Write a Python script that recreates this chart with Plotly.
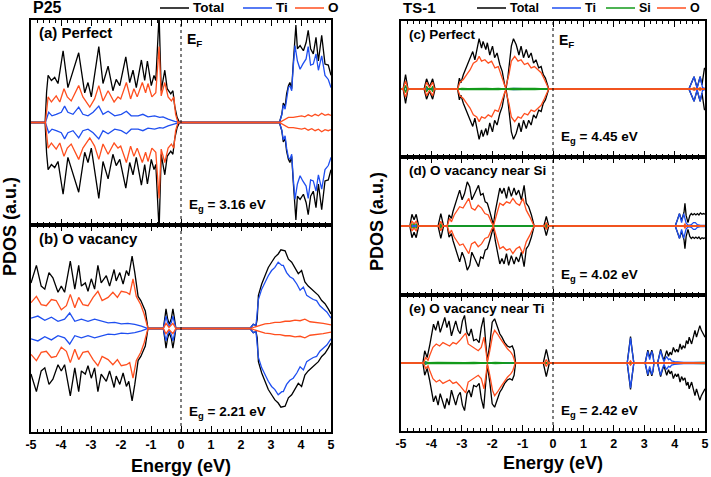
import plotly.graph_objects as go

W, H = 711, 477

# energy (eV), spin-up PDOS as a fraction of the half panel height
# spin-down is drawn as the mirror image
A_TOTAL = [(-5.0, 0), (-4.53, 0), (-4.48, 0.30), (-4.43, 0.46), (-4.32, 0.41), (-4.21, 0.44), (-4.1, 0.38),
           (-3.93, 0.70), (-3.77, 0.34), (-3.6, 0.49), (-3.41, 0.68), (-3.21, 0.29), (-3.1, 0.39), (-2.99, 0.25),
           (-2.9, 0.44), (-2.74, 0.74), (-2.6, 0.38), (-2.43, 0.55), (-2.27, 0.31), (-2.16, 0.42), (-2.04, 0.36),
           (-1.84, 0.64), (-1.71, 0.39), (-1.6, 0.51), (-1.49, 0.34), (-1.32, 0.61), (-1.21, 0.41), (-1.12, 0.60),
           (-0.99, 0.36), (-0.9, 0.46), (-0.84, 0.41), (-0.73, 1.05), (-0.66, 0.31), (-0.54, 0.51), (-0.46, 0.33),
           (-0.34, 0.28), (-0.27, 0.31), (-0.21, 0.16), (-0.13, 0.05), (-0.05, 0), (3.28, 0), (3.36, 0.08),
           (3.41, 0.19), (3.47, 0.15), (3.52, 0.28), (3.58, 0.36), (3.63, 0.39), (3.69, 0.33), (3.74, 0.57),
           (3.78, 0.77), (3.83, 0.95), (3.88, 0.72), (3.97, 0.75), (4.08, 0.70), (4.17, 0.78), (4.24, 0.90),
           (4.32, 0.72), (4.41, 0.67), (4.5, 0.83), (4.58, 0.60), (4.69, 0.85), (4.8, 0.57), (4.91, 0.56),
           (5.0, 0.46)]
A_TI = [(-5.0, 0), (-4.52, 0), (-4.41, 0.10), (-4.3, 0.065), (-4.16, 0.08), (-3.99, 0.10), (-3.88, 0.16),
        (-3.77, 0.10), (-3.6, 0.08), (-3.41, 0.15), (-3.27, 0.08), (-3.1, 0.065), (-2.93, 0.10), (-2.74, 0.16),
        (-2.6, 0.08), (-2.43, 0.11), (-2.21, 0.065), (-1.99, 0.08), (-1.82, 0.11), (-1.66, 0.065), (-1.43, 0.065),
        (-1.27, 0.08), (-1.1, 0.055), (-0.88, 0.065), (-0.71, 0.05), (-0.6, 0.055), (-0.43, 0.033), (-0.21, 0.01),
        (-0.04, 0), (3.28, 0), (3.36, 0.075), (3.41, 0.17), (3.47, 0.13), (3.52, 0.25), (3.58, 0.34), (3.63, 0.36),
        (3.69, 0.31), (3.74, 0.54), (3.8, 0.75), (3.88, 0.60), (3.97, 0.52), (4.06, 0.57), (4.17, 0.62),
        (4.24, 0.74), (4.32, 0.56), (4.41, 0.57), (4.5, 0.67), (4.58, 0.51), (4.69, 0.65), (4.8, 0.46),
        (4.91, 0.42), (5.0, 0.34)]
A_O = [(-5.0, 0), (-4.52, 0), (-4.43, 0.25), (-4.32, 0.20), (-4.16, 0.26), (-4.04, 0.20), (-3.9, 0.33),
       (-3.79, 0.25), (-3.66, 0.21), (-3.41, 0.36), (-3.27, 0.25), (-3.04, 0.15), (-2.88, 0.23), (-2.74, 0.36),
       (-2.6, 0.21), (-2.43, 0.31), (-2.23, 0.20), (-2.1, 0.25), (-2.01, 0.23), (-1.82, 0.39), (-1.68, 0.23),
       (-1.57, 0.33), (-1.46, 0.25), (-1.29, 0.39), (-1.18, 0.29), (-1.1, 0.38), (-0.97, 0.25), (-0.84, 0.29),
       (-0.73, 0.74), (-0.66, 0.26), (-0.54, 0.39), (-0.43, 0.25), (-0.32, 0.21), (-0.24, 0.25), (-0.18, 0.08),
       (-0.1, 0), (3.28, 0), (3.41, 0.02), (3.58, 0.05), (3.74, 0.05), (3.91, 0.06), (4.02, 0.065), (4.13, 0.055),
       (4.24, 0.075), (4.36, 0.06), (4.47, 0.08), (4.58, 0.065), (4.69, 0.09), (4.8, 0.07), (4.91, 0.08),
       (5.0, 0.07)]

B_TOTAL = [(-5.0, 0.44), (-4.82, 0.61), (-4.66, 0.41), (-4.54, 0.38), (-4.4, 0.54), (-4.27, 0.49), (-4.1, 0.35),
           (-3.99, 0.41), (-3.88, 0.35), (-3.69, 0.65), (-3.54, 0.38), (-3.41, 0.61), (-3.32, 0.41), (-3.19, 0.44),
           (-3.1, 0.36), (-2.99, 0.48), (-2.88, 0.38), (-2.77, 0.61), (-2.66, 0.44), (-2.49, 0.51), (-2.38, 0.41),
           (-2.23, 0.57), (-2.16, 0.46), (-2.04, 0.54), (-1.93, 0.43), (-1.82, 0.56), (-1.74, 0.51), (-1.63, 0.70),
           (-1.54, 0.54), (-1.43, 0.31), (-1.34, 0.27), (-1.27, 0.23), (-1.19, 0.17), (-1.1, 0), (-0.59, 0),
           (-0.53, 0.12), (-0.5, 0.19), (-0.45, 0.10), (-0.39, 0.04), (-0.32, 0.10), (-0.27, 0.19), (-0.23, 0.12),
           (-0.17, 0), (2.3, 0), (2.41, 0.04), (2.5, 0.03), (2.54, 0.09), (2.58, 0.32), (2.69, 0.43), (2.8, 0.51),
           (2.91, 0.59), (3.02, 0.64), (3.13, 0.69), (3.24, 0.72), (3.33, 0.76), (3.47, 0.75), (3.58, 0.67),
           (3.69, 0.64), (3.8, 0.58), (3.91, 0.53), (4.02, 0.56), (4.13, 0.45), (4.24, 0.41), (4.36, 0.38),
           (4.47, 0.35), (4.58, 0.32), (4.69, 0.27), (4.8, 0.24), (4.91, 0.19), (5.0, 0.14)]
B_TI = [(-5.0, 0.10), (-4.77, 0.12), (-4.54, 0.08), (-4.32, 0.11), (-4.1, 0.07), (-3.88, 0.09), (-3.71, 0.15),
        (-3.54, 0.07), (-3.32, 0.09), (-3.1, 0.07), (-2.88, 0.09), (-2.66, 0.07), (-2.43, 0.055), (-2.21, 0.06),
        (-1.99, 0.045), (-1.77, 0.05), (-1.54, 0.04), (-1.32, 0.023), (-1.1, 0), (-0.59, 0), (-0.53, 0.08),
        (-0.5, 0.12), (-0.45, 0.06), (-0.39, 0.02), (-0.32, 0.06), (-0.27, 0.12), (-0.23, 0.07), (-0.17, 0),
        (2.3, 0), (2.41, 0.04), (2.5, 0.03), (2.58, 0.28), (2.69, 0.38), (2.8, 0.45), (2.91, 0.51), (3.02, 0.56),
        (3.13, 0.59), (3.24, 0.64), (3.36, 0.61), (3.41, 0.61), (3.52, 0.54), (3.63, 0.50), (3.74, 0.48),
        (3.86, 0.43), (3.97, 0.37), (4.08, 0.40), (4.19, 0.32), (4.3, 0.30), (4.41, 0.28), (4.52, 0.27),
        (4.63, 0.22), (4.74, 0.19), (4.86, 0.16), (5.0, 0.10)]
B_O = [(-5.0, 0.25), (-4.82, 0.31), (-4.66, 0.23), (-4.49, 0.22), (-4.32, 0.28), (-4.16, 0.27), (-3.99, 0.18),
       (-3.82, 0.22), (-3.69, 0.33), (-3.54, 0.20), (-3.41, 0.30), (-3.27, 0.23), (-3.1, 0.22), (-2.93, 0.30),
       (-2.77, 0.36), (-2.63, 0.27), (-2.43, 0.30), (-2.27, 0.35), (-2.12, 0.30), (-1.99, 0.36), (-1.82, 0.35),
       (-1.71, 0.33), (-1.6, 0.48), (-1.49, 0.31), (-1.34, 0.23), (-1.23, 0.14), (-1.1, 0), (-0.59, 0),
       (-0.5, 0.05), (-0.4, 0.01), (-0.27, 0.05), (-0.17, 0), (2.3, 0), (2.63, 0.03), (2.8, 0.045), (2.97, 0.05),
       (3.13, 0.06), (3.3, 0.06), (3.47, 0.07), (3.63, 0.07), (3.8, 0.08), (3.97, 0.075), (4.13, 0.09),
       (4.3, 0.065), (4.52, 0.06), (4.74, 0.05), (5.0, 0.035)]

C_TOTAL = [(-5.0, 0), (-4.93, 0), (-4.85, 0.21), (-4.77, 0), (-4.24, 0), (-4.16, 0.15), (-4.06, 0.03),
           (-3.96, 0.15), (-3.88, 0), (-3.14, 0), (-3.08, 0.16), (-3.03, 0.09), (-2.95, 0.21), (-2.86, 0.31),
           (-2.78, 0.41), (-2.71, 0.48), (-2.64, 0.55), (-2.57, 0.43), (-2.49, 0.63), (-2.43, 0.74), (-2.35, 0.60),
           (-2.3, 0.70), (-2.21, 0.58), (-2.16, 0.68), (-2.08, 0.50), (-1.99, 0.63), (-1.92, 0.46), (-1.84, 0.53),
           (-1.75, 0.36), (-1.67, 0.26), (-1.59, 0.06), (-1.54, 0.015), (-1.48, 0.19), (-1.43, 0.41), (-1.37, 0.63),
           (-1.3, 0.74), (-1.21, 0.65), (-1.12, 0.50), (-1.05, 0.63), (-0.97, 0.46), (-0.88, 0.58), (-0.8, 0.46),
           (-0.72, 0.53), (-0.64, 0.38), (-0.56, 0.43), (-0.47, 0.31), (-0.39, 0.33), (-0.32, 0.21), (-0.25, 0.16),
           (-0.18, 0.06), (-0.14, 0), (4.47, 0), (4.56, 0.10), (4.64, 0.18), (4.74, 0.02), (4.84, 0.18),
           (4.9, 0.06), (4.94, 0.22), (4.98, 0.30), (5.0, 0.31)]
C_TI = [(-5.0, 0), (-4.9, 0), (-4.85, 0.03), (-4.8, 0), (-3.1, 0), (-2.6, 0.005), (-2.2, 0.008), (-1.8, 0.005),
        (-1.56, 0), (-1.3, 0.008), (-1.0, 0.005), (-0.14, 0), (4.47, 0), (4.56, 0.10), (4.64, 0.18), (4.74, 0.01),
        (4.84, 0.18), (4.92, 0.02), (5.0, 0.01)]
C_SI = [(-5.0, 0), (-4.9, 0), (-4.85, 0.05), (-4.8, 0), (-4.2, 0), (-4.16, 0.04), (-4.1, 0), (-4.0, 0),
        (-3.96, 0.04), (-3.92, 0), (-3.1, 0), (-3.0, 0.01), (-2.8, 0.005), (-2.6, 0.01), (-2.4, 0.007), (-2.2, 0.01),
        (-2.0, 0.005), (-1.8, 0.01), (-1.56, 0), (-1.4, 0.01), (-1.2, 0.007), (-1.0, 0.01), (-0.8, 0.005),
        (-0.6, 0.007), (-0.4, 0.005), (-0.14, 0), (5.0, 0)]
C_O = [(-5.0, 0), (-4.93, 0), (-4.85, 0.12), (-4.77, 0), (-4.22, 0), (-4.16, 0.10), (-4.06, 0.02), (-3.96, 0.10),
       (-3.9, 0), (-3.14, 0), (-3.06, 0.10), (-2.95, 0.14), (-2.84, 0.21), (-2.73, 0.28), (-2.62, 0.38),
       (-2.51, 0.41), (-2.43, 0.48), (-2.35, 0.41), (-2.24, 0.43), (-2.13, 0.38), (-2.02, 0.41), (-1.91, 0.31),
       (-1.8, 0.33), (-1.7, 0.19), (-1.56, 0.015), (-1.45, 0.21), (-1.37, 0.41), (-1.26, 0.48), (-1.15, 0.41),
       (-1.05, 0.43), (-0.94, 0.36), (-0.83, 0.38), (-0.72, 0.31), (-0.61, 0.33), (-0.5, 0.28), (-0.39, 0.24),
       (-0.28, 0.14), (-0.14, 0), (4.55, 0), (4.64, 0.02), (4.74, 0), (4.84, 0.02), (4.92, 0), (5.0, 0)]

D_TOTAL = [(-5.0, 0), (-4.71, 0), (-4.64, 0.17), (-4.57, 0.09), (-4.5, 0.17), (-4.42, 0), (-3.78, 0),
           (-3.69, 0.18), (-3.6, 0), (-3.48, 0), (-3.42, 0.16), (-3.34, 0.11), (-3.29, 0.21), (-3.21, 0.33),
           (-3.15, 0.40), (-3.07, 0.52), (-2.99, 0.38), (-2.91, 0.47), (-2.82, 0.64), (-2.74, 0.57), (-2.67, 0.38),
           (-2.6, 0.45), (-2.52, 0.52), (-2.45, 0.59), (-2.38, 0.45), (-2.3, 0.47), (-2.23, 0.35), (-2.16, 0.33),
           (-2.08, 0.21), (-2.03, 0.11), (-1.96, 0.015), (-1.9, 0.21), (-1.83, 0.40), (-1.75, 0.55), (-1.68, 0.47),
           (-1.61, 0.55), (-1.53, 0.40), (-1.46, 0.57), (-1.37, 0.43), (-1.28, 0.55), (-1.21, 0.45), (-1.13, 0.52),
           (-1.04, 0.38), (-0.95, 0.59), (-0.88, 0.33), (-0.8, 0.28), (-0.71, 0.16), (-0.62, 0), (-0.3, 0),
           (-0.22, 0.14), (-0.14, 0), (4.02, 0), (4.1, 0.10), (4.16, 0.18), (4.23, 0.08), (4.31, 0.20),
           (4.34, 0.33), (4.38, 0.15), (4.44, 0.05), (4.5, 0.15), (4.55, 0.18), (4.6, 0.16), (4.65, 0.18),
           (4.7, 0.16), (4.75, 0.18), (4.8, 0.16), (4.85, 0.19), (4.9, 0.17), (4.95, 0.18), (5.0, 0.17)]
D_TI = [(-5.0, 0), (-3.0, 0), (-2.8, 0.005), (-2.4, 0.005), (-1.96, 0), (-1.7, 0.008), (-1.5, 0.005), (-0.62, 0),
        (4.02, 0), (4.1, 0.10), (4.16, 0.18), (4.23, 0.05), (4.3, 0.18), (4.38, 0.04), (4.45, 0.01), (4.55, 0.02),
        (4.62, 0.05), (4.68, 0.05), (4.75, 0.02), (4.85, 0.01), (5.0, 0.01)]
D_SI = [(-5.0, 0), (-4.68, 0), (-4.64, 0.03), (-4.57, 0.02), (-4.5, 0.03), (-4.45, 0), (-3.73, 0), (-3.69, 0.03),
        (-3.65, 0), (-3.3, 0), (-3.1, 0.008), (-2.8, 0.01), (-2.5, 0.005), (-2.2, 0.008), (-1.96, 0), (-1.7, 0.008),
        (-1.4, 0.01), (-1.1, 0.005), (-0.8, 0.008), (-0.62, 0), (-0.26, 0), (-0.22, 0.03), (-0.18, 0), (5.0, 0)]
D_O = [(-5.0, 0), (-4.7, 0), (-4.64, 0.07), (-4.57, 0.03), (-4.5, 0.07), (-4.43, 0), (-3.76, 0), (-3.69, 0.07),
       (-3.62, 0), (-3.48, 0), (-3.4, 0.11), (-3.34, 0.06), (-3.25, 0.16), (-3.18, 0.21), (-3.07, 0.28),
       (-2.96, 0.26), (-2.85, 0.33), (-2.77, 0.40), (-2.68, 0.26), (-2.57, 0.23), (-2.46, 0.30), (-2.35, 0.26),
       (-2.24, 0.18), (-2.13, 0.16), (-2.03, 0.06), (-1.96, 0), (-1.86, 0.16), (-1.75, 0.33), (-1.64, 0.30),
       (-1.53, 0.35), (-1.42, 0.33), (-1.32, 0.40), (-1.21, 0.33), (-1.1, 0.30), (-0.99, 0.40), (-0.88, 0.23),
       (-0.77, 0.14), (-0.62, 0), (-0.28, 0), (-0.22, 0.05), (-0.16, 0), (4.3, 0), (4.34, 0.03), (4.38, 0),
       (5.0, 0)]

E_TOTAL = [(-5.0, 0), (-4.28, 0), (-4.22, 0.18), (-4.14, 0.08), (-4.06, 0.25), (-4.0, 0.43), (-3.93, 0.57),
           (-3.86, 0.48), (-3.78, 0.62), (-3.71, 0.45), (-3.64, 0.55), (-3.56, 0.67), (-3.49, 0.52), (-3.42, 0.62),
           (-3.34, 0.40), (-3.27, 0.52), (-3.2, 0.62), (-3.12, 0.48), (-3.05, 0.43), (-2.98, 0.62), (-2.91, 0.70),
           (-2.83, 0.45), (-2.76, 0.40), (-2.69, 0.50), (-2.61, 0.33), (-2.52, 0.35), (-2.43, 0.30), (-2.36, 0.52),
           (-2.28, 0.67), (-2.21, 0.28), (-2.16, 0.03), (-2.08, 0.28), (-2.0, 0.60), (-1.92, 0.65), (-1.84, 0.55),
           (-1.75, 0.43), (-1.68, 0.38), (-1.59, 0.30), (-1.5, 0.25), (-1.42, 0.23), (-1.34, 0.25), (-1.28, 0.18),
           (-1.23, 0), (-0.32, 0), (-0.22, 0.20), (-0.12, 0), (2.44, 0), (2.5, 0.20), (2.55, 0.39), (2.6, 0.20),
           (2.66, 0), (3.03, 0), (3.08, 0.12), (3.12, 0.19), (3.18, 0.08), (3.25, 0.19), (3.29, 0.12), (3.32, 0),
           (3.44, 0), (3.5, 0.15), (3.54, 0.20), (3.6, 0.10), (3.65, 0.04), (3.7, 0.12), (3.74, 0.18), (3.8, 0.10),
           (3.85, 0.16), (3.9, 0.12), (3.96, 0.23), (4.02, 0.16), (4.07, 0.20), (4.12, 0.16), (4.18, 0.28),
           (4.23, 0.20), (4.28, 0.25), (4.34, 0.22), (4.39, 0.33), (4.44, 0.28), (4.48, 0.38), (4.56, 0.28),
           (4.62, 0.40), (4.67, 0.48), (4.72, 0.38), (4.78, 0.46), (4.83, 0.55), (4.88, 0.48), (4.94, 0.42),
           (5.0, 0.38)]
E_TI = [(-5.0, 0), (-4.1, 0), (-3.9, 0.01), (-3.7, 0.005), (-3.4, 0.01), (-3.2, 0.005), (-2.9, 0.008),
        (-2.6, 0.005), (-2.3, 0), (2.44, 0), (2.5, 0.19), (2.55, 0.37), (2.6, 0.19), (2.66, 0), (3.03, 0),
        (3.08, 0.11), (3.12, 0.17), (3.18, 0.05), (3.25, 0.17), (3.29, 0.11), (3.32, 0), (3.44, 0), (3.5, 0.13),
        (3.54, 0.18), (3.6, 0.08), (3.65, 0.02), (3.7, 0.07), (3.74, 0.09), (3.8, 0.05), (3.85, 0.06), (3.9, 0.03),
        (4.0, 0.02), (4.3, 0.01), (5.0, 0.01)]
E_SI = [(-5.0, 0), (-4.26, 0), (-4.2, 0.02), (-4.1, 0.005), (-3.8, 0.01), (-3.5, 0.005), (-3.2, 0.008),
        (-2.9, 0.005), (-2.6, 0.01), (-2.3, 0.005), (-2.16, 0), (-1.9, 0.008), (-1.6, 0.005), (-1.24, 0), (3.7, 0),
        (4.0, 0.005), (4.3, 0.008), (4.6, 0.005), (5.0, 0.008)]
E_O = [(-5.0, 0), (-4.26, 0), (-4.19, 0.08), (-4.11, 0.04), (-4.04, 0.13), (-3.95, 0.23), (-3.84, 0.28),
       (-3.73, 0.25), (-3.62, 0.30), (-3.51, 0.28), (-3.4, 0.25), (-3.29, 0.30), (-3.18, 0.28), (-3.07, 0.33),
       (-2.96, 0.40), (-2.87, 0.44), (-2.79, 0.28), (-2.68, 0.25), (-2.57, 0.21), (-2.46, 0.18), (-2.36, 0.23),
       (-2.27, 0.38), (-2.2, 0.16), (-2.16, 0.01), (-2.08, 0.18), (-1.99, 0.40), (-1.92, 0.48), (-1.83, 0.43),
       (-1.72, 0.35), (-1.61, 0.28), (-1.5, 0.21), (-1.39, 0.16), (-1.32, 0.11), (-1.24, 0), (-0.28, 0),
       (-0.22, 0.05), (-0.16, 0), (2.5, 0), (2.55, 0.03), (2.6, 0), (5.0, 0)]

PANEL_LABELS = ["(a) Perfect", "(b) O vacancy", "(c) Perfect", "(d) O vacancy near Si", "(e) O vacancy near Ti"]
GAPS = ["3.16", "2.21", "4.45", "4.02", "2.42"]
TICK_VALS = [-5, -4, -3, -2, -1, 0, 1, 2, 3, 4, 5]
TICK_TEXT = ["-5", "-4", "-3", "-2", "-1", "0", "1", "2", "3", "4", "5"]
LEFT_LEGEND = ["Total", "Ti", "O"]
RIGHT_LEGEND = ["Total", "Ti", "Si", "O"]

COLORS = {"Total": "#000000", "Ti": "#1f4ff0", "Si": "#139a1a", "O": "#ff4f1f"}
FONT = "Liberation Sans, Arial, sans-serif"

panels = [
    {"Total": A_TOTAL, "Ti": A_TI, "O": A_O},
    {"Total": B_TOTAL, "Ti": B_TI, "O": B_O},
    {"Total": C_TOTAL, "Ti": C_TI, "Si": C_SI, "O": C_O},
    {"Total": D_TOTAL, "Ti": D_TI, "Si": D_SI, "O": D_O},
    {"Total": E_TOTAL, "Ti": E_TI, "Si": E_SI, "O": E_O},
]


def px(x):
    return x / W


def py(y):
    return 1 - y / H


def label(text, x, y, size, anchor="left", angle=0):
    return dict(text="<b>%s</b>" % text, x=px(x), y=py(y), xref="paper", yref="paper",
                xanchor=anchor, yanchor="middle", textangle=angle, showarrow=False,
                font=dict(family=FONT, size=size, color="black"))


# pixel boxes of the five panels: left, right, top, bottom
boxes = [(31, 331, 20, 225), (31, 331, 225, 432),
         (401, 705, 21, 157), (401, 705, 157, 295), (401, 705, 295, 431)]

fig = go.Figure()
for i, series in enumerate(panels):
    n = "" if i == 0 else str(i + 1)
    for name, pts in series.items():
        e = [p[0] for p in pts]
        v = [p[1] for p in pts]
        fig.add_trace(go.Scatter(
            x=e + [None] + e, y=v + [None] + [-a for a in v],
            mode="lines", name=name, line=dict(color=COLORS[name], width=1.3),
            xaxis="x" + n, yaxis="y" + n, showlegend=False, hoverinfo="skip",
        ))

layout = {}
annotations = []
shapes = []
for i, (l, r, t, b) in enumerate(boxes):
    n = "" if i == 0 else str(i + 1)
    layout["xaxis" + n] = dict(
        domain=[px(l), px(r)], anchor="y" + n, range=[-5, 5], automargin=False,
        showline=True, linecolor="black", linewidth=1.5, mirror="ticks",
        ticks="inside", ticklen=6, tickwidth=1.3, tickcolor="black",
        tickmode="array", tickvals=TICK_VALS, ticktext=TICK_TEXT, showticklabels=i in (1, 4),
        tickfont=dict(family=FONT, size=12.5, color="black", weight="bold"),
        minor=dict(tickmode="linear", tick0=-5, dtick=0.2, ticks="inside", ticklen=3.5,
                   tickwidth=1, tickcolor="black", showgrid=False),
        showgrid=False, zeroline=False,
    )
    layout["yaxis" + n] = dict(
        domain=[py(b), py(t)], anchor="x" + n, range=[-1, 1], automargin=False,
        showline=True, linecolor="black", linewidth=1.5, mirror=True,
        ticks="", showticklabels=False, showgrid=False, zeroline=False,
    )
    shapes.append(dict(type="line", xref="x" + n, yref="y" + n + " domain", x0=0, x1=0, y0=0, y1=1,
                       line=dict(color="black", width=1, dash="dot")))
    annotations.append(label(PANEL_LABELS[i], l + 6, t + 13, 15 if i < 2 else 13.5))
    annotations.append(label("E<sub>g</sub> = %s eV" % GAPS[i], (l + r) / 2 + 6, b - 20, 13.5))
    if i in (0, 2):
        annotations.append(label("E<sub>F</sub>", (l + r) / 2 + 4, t + 20, 14))

annotations += [
    label("P25", 31, 8, 16), label("TS-1", 401, 8, 15),
    label("Energy (eV)", 181, 466, 18, "center"), label("Energy (eV)", 553, 463, 18, "center"),
    label("PDOS (a.u.)", 10, 227, 18, "center", -90), label("PDOS (a.u.)", 377, 222, 18, "center", -90),
]

# hand-placed legends above each column: line start (px), label
for names, starts, size in [(LEFT_LEGEND, [160, 243, 295], 13.5), (RIGHT_LEGEND, [477, 552, 606, 657], 12.5)]:
    for name, x0 in zip(names, starts):
        shapes.append(dict(type="line", xref="paper", yref="paper", x0=px(x0), x1=px(x0 + 29),
                           y0=py(8), y1=py(8), line=dict(color=COLORS[name], width=1.5)))
        annotations.append(label(name, x0 + 31, 8, size))

fig.update_layout(
    width=W, height=H, margin=dict(l=0, r=0, t=0, b=0, autoexpand=False),
    paper_bgcolor="white", plot_bgcolor="white", showlegend=False,
    annotations=annotations, shapes=shapes,
    **layout,
)

fig.write_html("out.html", config={"displayModeBar": False},
               post_script="document.body.style.margin='0';document.body.style.overflow='hidden';")
